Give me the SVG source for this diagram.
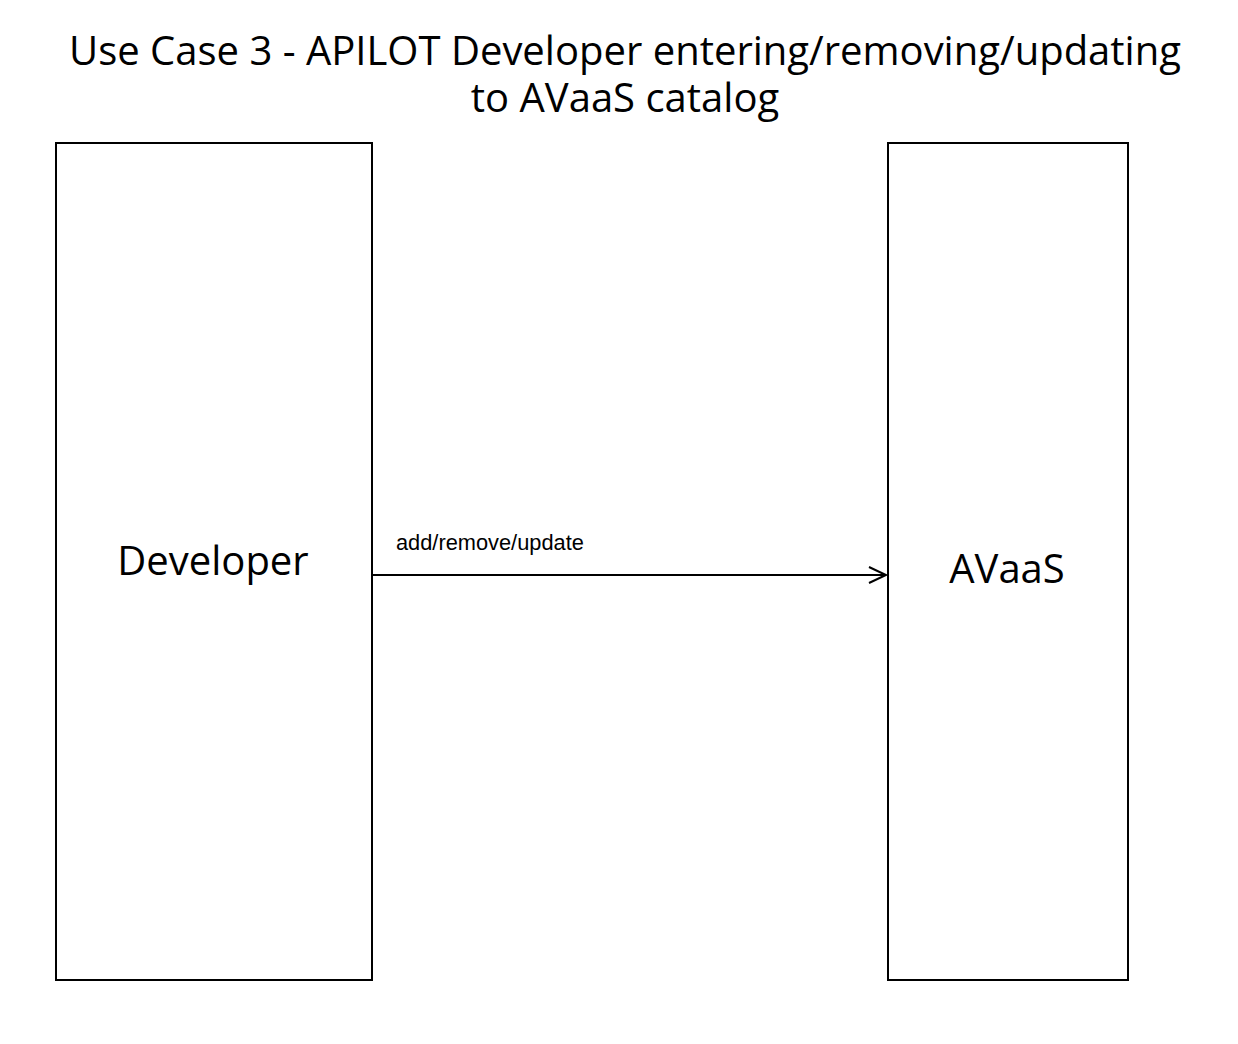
<svg xmlns="http://www.w3.org/2000/svg" width="1238" height="1044" viewBox="0 0 1238 1044">
<style>
.box{fill:#fff;stroke:#000;stroke-width:2}
.big{font-family:"Open Sans",sans-serif;font-size:40px;fill:#000;text-anchor:middle}
.lbl{font-family:"Liberation Sans",Arial,sans-serif;font-size:21.8px;fill:#000}
.conn{stroke:#000;stroke-width:2;fill:none}
</style>
<rect width="1238" height="1044" fill="#fff"/>
<g id="title">
<text class="big" x="625" y="65">Use Case 3 - APILOT Developer entering/removing/updating</text>
<text class="big" x="625" y="112">to AVaaS catalog</text>
</g>
<g id="developer">
<rect class="box" x="56" y="143" width="316" height="837"/>
<text class="big" x="213" y="575">Developer</text>
</g>
<g id="avaas">
<rect class="box" x="888" y="143" width="240" height="837"/>
<text class="big" x="1007" y="583">AVaaS</text>
</g>
<g id="connectors">
<line class="conn" x1="372" y1="575" x2="886" y2="575"/>
<polyline class="conn" points="869,567 886,575 869,583"/>
<text class="lbl" x="396" y="550">add/remove/update</text>
</g>
</svg>
